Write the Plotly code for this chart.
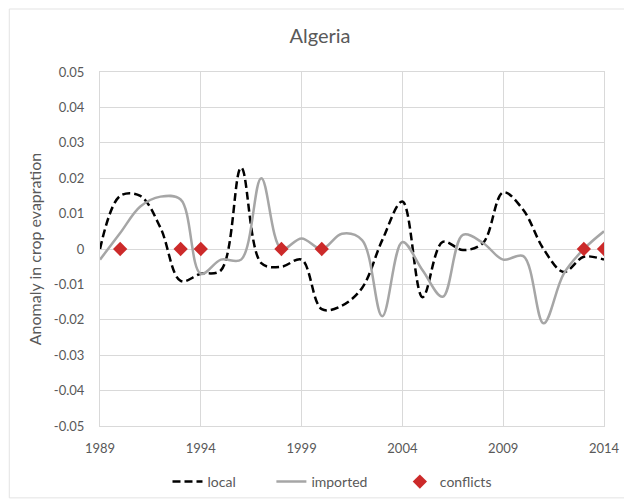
import plotly.graph_objects as go

years = list(range(1989, 2015))
local = [0.0, 0.015, 0.015, 0.006, -0.009, -0.007, -0.006, 0.023, -0.004, -0.005,
         -0.003, -0.017, -0.016, -0.011, 0.0025, 0.0134, -0.0136, 0.002, -0.0003, 0.0017,
         0.016, 0.011, 0.0, -0.0065, -0.0022, -0.003]
imported = [-0.003, 0.0045, 0.012, 0.0148, 0.014, -0.007, -0.003, -0.003, 0.020, 0.0,
            0.003, 0.0, 0.0043, 0.0025, -0.019, 0.002, -0.006, -0.0135, 0.004, 0.0017,
            -0.003, -0.002, -0.021, -0.007, 0.0, 0.005]
conflict_years = [1990, 1993, 1994, 1998, 2000, 2013, 2014]
conflict_vals = [0, 0, 0, 0, 0, 0, 0]

y_tickvals = [0.05, 0.04, 0.03, 0.02, 0.01, 0, -0.01, -0.02, -0.03, -0.04, -0.05]
y_ticktext = ["0.05", "0.04", "0.03", "0.02", "0.01", "0", "-0.01", "-0.02", "-0.03", "-0.04", "-0.05"]
x_tickvals = [1989, 1994, 1999, 2004, 2009, 2014]
x_ticktext = ["1989", "1994", "1999", "2004", "2009", "2014"]

FONT = "Lato"
TXT = "#595959"
GRID = "#d9d9d9"

fig = go.Figure()
fig.add_trace(go.Scatter(x=years, y=local, name="local", mode="lines", legend="legend",
                         line=dict(color="black", width=2.5, dash="8px,4px", shape="spline", smoothing=1)))
fig.add_trace(go.Scatter(x=years, y=imported, name="imported", mode="lines", legend="legend2",
                         line=dict(color="#a6a6a6", width=2.5, shape="spline", smoothing=1)))
fig.add_trace(go.Scatter(x=conflict_years, y=conflict_vals, name="conflicts", mode="markers", legend="legend3",
                         marker=dict(symbol="diamond", color="#cc2a2a", size=11)))

leg_common = dict(orientation="h", xref="container", yref="container", y=0.0405, yanchor="middle",
                  xanchor="left", font=dict(size=14, color=TXT, family=FONT), bgcolor="rgba(0,0,0,0)")

fig.update_layout(
    width=624, height=494,
    margin=dict(l=92, r=28, t=64, b=76, autoexpand=False),
    paper_bgcolor="white", plot_bgcolor="white",
    font=dict(family=FONT, color=TXT, size=13),
    title=dict(text="Algeria", x=0.5, xanchor="center", y=0.944, yanchor="middle",
               font=dict(size=20, color=TXT, family=FONT)),
    showlegend=True,
    legend=dict(x=0.2556, **leg_common),
    legend2=dict(x=0.4221, **leg_common),
    legend3=dict(x=0.628, **leg_common),
    shapes=[dict(type="rect", xref="paper", yref="paper", x0=-0.180, x1=1.048, y0=-0.203, y1=1.178,
                 line=dict(color="#e3e3e3", width=1))],
)
fig.update_xaxes(range=[1989, 2014], tickvals=x_tickvals, ticktext=x_ticktext,
                 showgrid=True, gridcolor=GRID, gridwidth=1, showline=True, linecolor=GRID,
                 mirror=True, zeroline=False, ticks="", ticklabelstandoff=10,
                 tickfont=dict(size=13, color=TXT))
fig.update_yaxes(range=[-0.05, 0.05], tickvals=y_tickvals, ticktext=y_ticktext,
                 showgrid=True, gridcolor=GRID, gridwidth=1, showline=True, linecolor=GRID,
                 mirror=True, zeroline=False, ticks="", ticklabelstandoff=12,
                 tickfont=dict(size=13, color=TXT),
                 title=dict(text="Anomaly in crop evapration", font=dict(size=16, color=TXT), standoff=8))

fig.write_html("out.html")
